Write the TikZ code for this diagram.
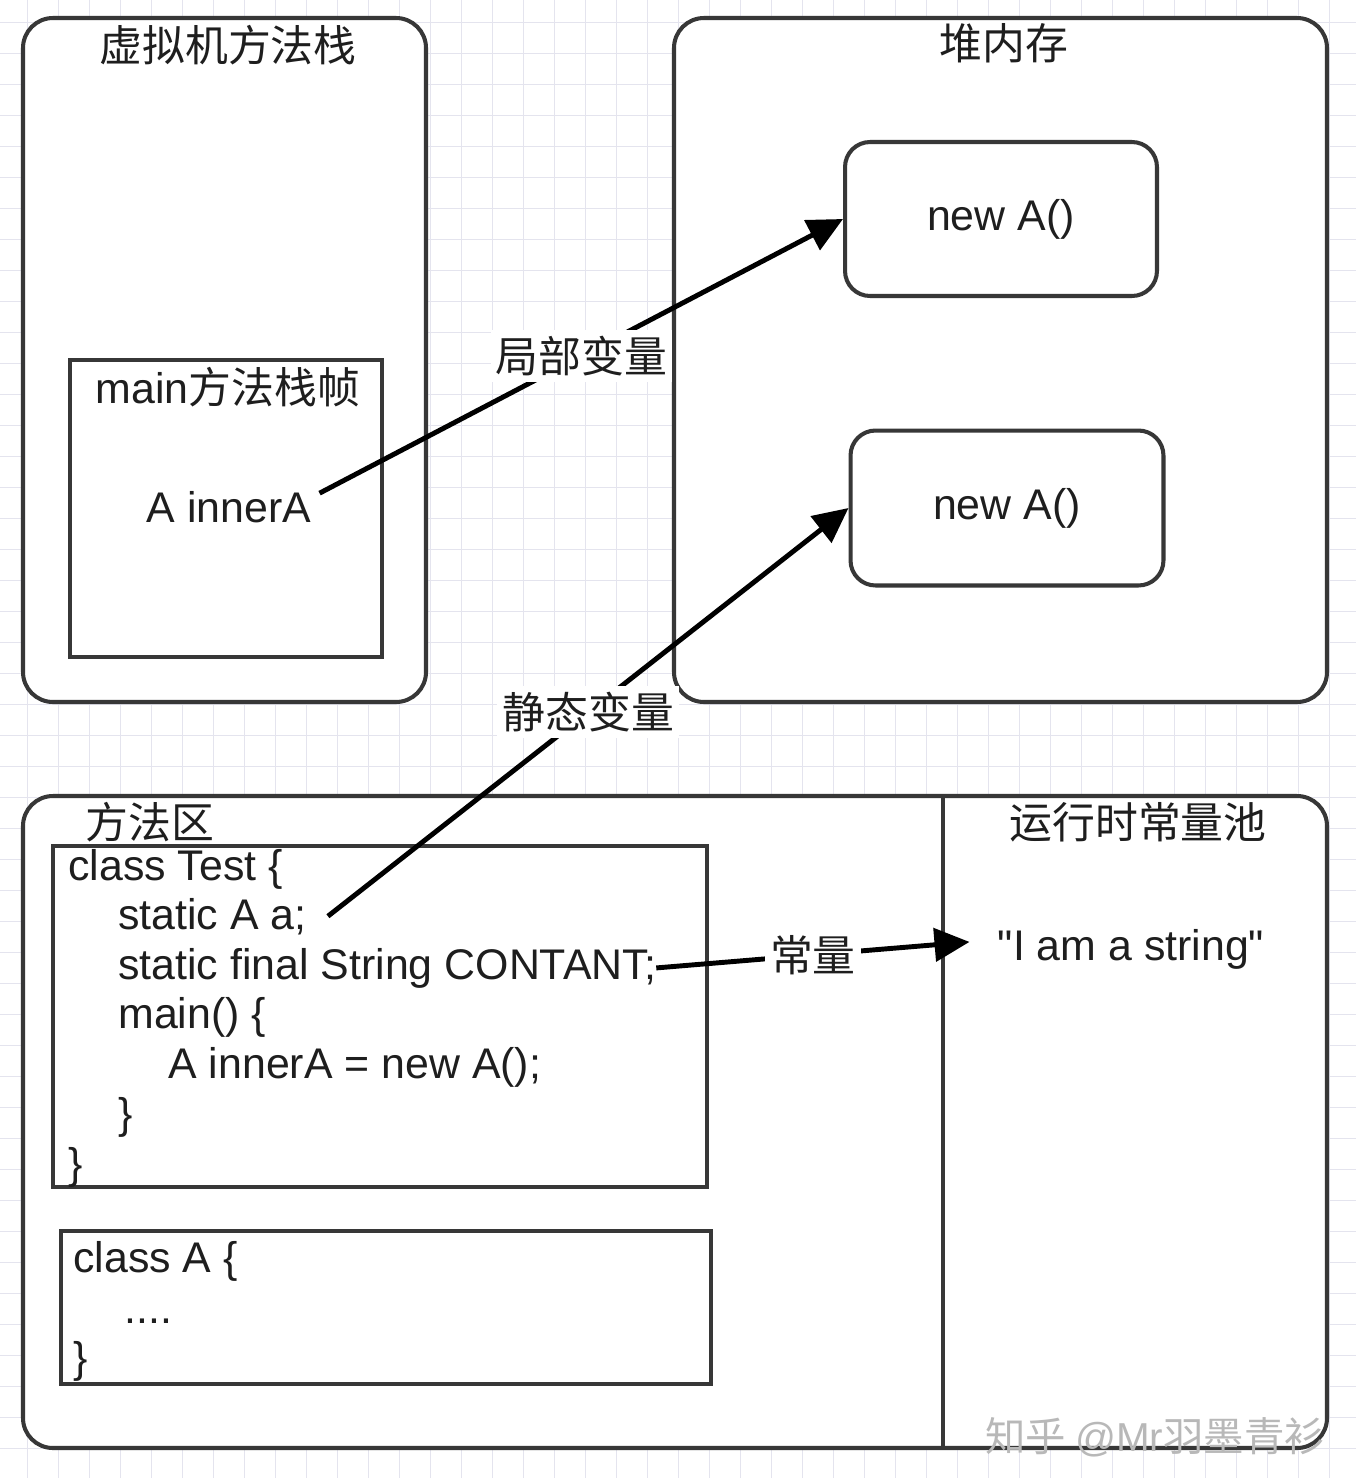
\documentclass[tikz,border=0pt]{standalone}
\usepackage{fontspec}
\setmainfont{Liberation Sans}
\newfontfamily\cjk{Noto Sans CJK SC}
\newfontfamily\strfont{Liberation Sans}
\usetikzlibrary{arrows.meta}
\newcommand\bodysize{\fontsize{24.4pt}{28pt}\selectfont}
\definecolor{gridgray}{RGB}{228,228,238}
\definecolor{linegray}{RGB}{55,55,55}
\definecolor{inkgray}{RGB}{30,30,30}
\tikzset{
  gridline/.style={gridgray, line width=0.55pt},
  region/.style={draw=linegray, fill=white, line width=2.3pt, rounded corners=0.6cm},
  framebox/.style={draw=linegray, fill=white, line width=2.3pt},
  objbox/.style={draw=linegray, fill=white, line width=2.3pt, rounded corners=0.5cm,
    minimum width=6.24cm, minimum height=3.08cm, font=\bodysize, text=inkgray},
  title/.style={font=\cjk\bodysize, text=inkgray, inner sep=0},
  code/.style={anchor=base west, inner sep=0, font=\bodysize, text=inkgray},
  ref/.style={-{Triangle[length=0.7cm,width=0.66cm]}, line width=2.8pt, black},
  varlabel/.style={fill=white, inner xsep=0.1cm, inner ysep=0.12cm, font=\cjk\bodysize, text=inkgray},
}
\begin{document}
\begin{tikzpicture}[x=0.02cm,y=-0.02cm]
  \useasboundingbox (0,0) rectangle (1356,1478);
  \fill[white] (0,0) rectangle (1356,1478);
  % background grid
  \foreach \k in {0,...,42}{
    \draw[gridline] ({27+31*\k},0) -- ({27+31*\k},1478);
  }
  \foreach \k in {0,...,46}{
    \draw[gridline] (0,{22+31*\k}) -- (1356,{22+31*\k});
  }

  % stack
  \draw[region] (23,18) rectangle (426,702);
  \node[title] (stackT) at (228,45) {虚拟机方法栈};
  \draw[framebox] (70,360) rectangle (382,657);
  \node[title] (frameT) at (228,387) {{\rmfamily main}方法栈帧};
  \node[code, anchor=base, inner xsep=0.16cm] (innerA) at (229,522) {A innerA};

  % heap
  \draw[region] (674,18) rectangle (1327,702);
  \node[title] (heapT) at (1004,43) {堆内存};
  \node[objbox] (objA) at (1001,219) {new A()};
  \node[objbox, minimum width=6.26cm, minimum height=3.1cm] (objB) at (1007,508) {new A()};

  % method area
  \draw[region] (23,796) rectangle (1327,1448);
  \draw[linegray, line width=2.3pt] (943,796) -- (943,1448);
  \node[title] (methodT) at (150,822) {方法区};
  \node[title] (poolT) at (1138,822) {运行时常量池};

  \draw[framebox] (53,846) rectangle (707,1187);
  \node[code] (t1) at (68,880) {class Test \{};
  \node[code] (t2) at (118,929) {static A a;};
  \node[code] (t3) at (118,979) {static final String CONTANT;};
  \node[code] (t4) at (118,1028) {main() \{};
  \node[code] (t5) at (168,1078) {A innerA = new A();};
  \node[code] (t6) at (118,1128) {\}};
  \node[code] (t7) at (68,1178) {\}};

  \draw[framebox] (61,1231) rectangle (711,1384);
  \node[code] (a1) at (73,1272) {class A \{};
  \node[code] (a2) at (124,1323) {....};
  \node[code] (a3) at (73,1372) {\}};

  \node[code, anchor=base, inner xsep=0.56cm, font=\strfont\bodysize] (str) at (1131,960) {"I am a string"};

  % references
  \draw[ref] ([yshift=0.27cm]innerA.east) -- (objA.west)
    node[varlabel, pos=0.5] (lblLocal) {局部变量};
  \draw[ref] ([xshift=0.42cm]t2.east) -- (objB.west)
    node[varlabel, pos=0.5] (lblStatic) {静态变量};
  \draw[ref] (t3.east) -- ([yshift=0.14cm]str.west)
    node[varlabel, pos=0.5] (lblConst) {常量};

  \node[font=\cjk\fontsize{23pt}{25pt}\selectfont, text=black!28, inner sep=0] (mark) at (1155,1437) {知乎 {\rmfamily @Mr}羽墨青衫};
\end{tikzpicture}
\end{document}
